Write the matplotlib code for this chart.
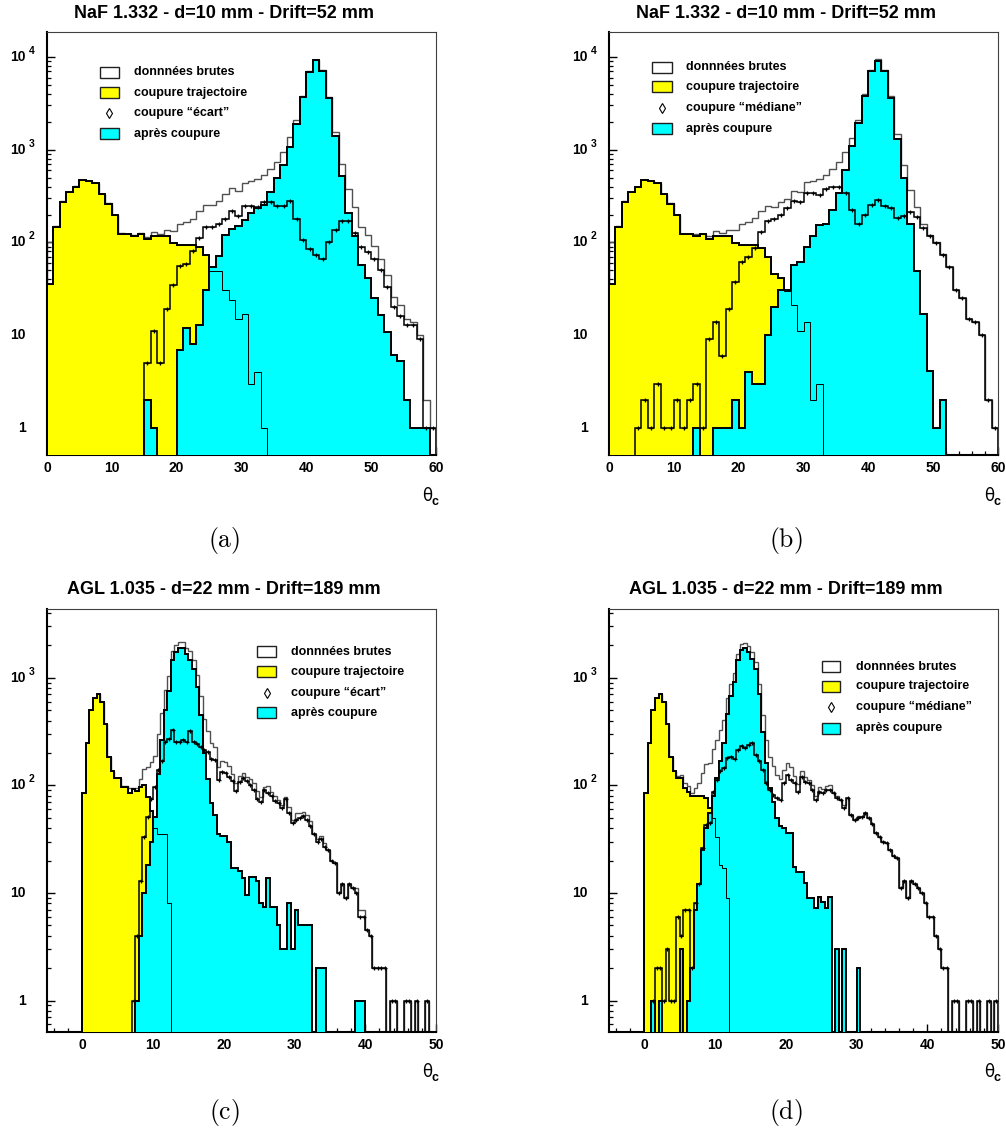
import numpy as np
import matplotlib
matplotlib.use("Agg")
import matplotlib.pyplot as plt
from matplotlib.ticker import FixedLocator, LogLocator, NullFormatter, MultipleLocator
from matplotlib.patches import Rectangle

plt.rcParams['font.family'] = ['Liberation Sans', 'DejaVu Sans']

# ---------------- data ----------------
# NaF panels: 60 bins of 1 unit from 0 to 60
edges_naf = np.arange(0, 61, 1.0)
# AGL panels: 100 bins of 0.5 unit from 0 to 50
edges_agl = np.arange(0, 50.001, 0.5)

raw_a = [100, 150, 278, 350, 402, 475, 464, 442, 332, 264,
         198, 125, 124, 120, 125, 115, 130, 123, 135, 133,
         158, 165, 181, 216, 252, 252, 279, 329, 382, 359,
         443, 463, 485, 530, 622, 740, 940, 1360, 2080, 3806,
         6986, 9273, 7167, 3702, 1537, 698, 377, 241, 147, 119,
         91, 66, 44, 26, 21, 15, 14, 10, 2, 1]
traj_a = [36, 148, 276, 348, 400, 473, 462, 440, 330, 262,
          196, 123, 122, 118, 123, 108, 118, 118, 116, 98,
          95, 94, 93, 90, 73, 49, 49, 31, 24, 15,
          17, 3, 4, 1, 0, 0, 0, 0, 0, 0,
          0, 0, 0, 0, 0, 0, 0, 0, 0, 0,
          0, 0, 0, 0, 0, 0, 0, 0, 0, 0]
ecart_a = [0, 0, 0, 0, 0, 0, 0, 0, 0, 0,
           0, 0, 0, 0, 0, 5, 11, 5, 19, 35,
           56, 59, 80, 113, 148, 148, 158, 178, 218, 194,
           250, 250, 244, 276, 272, 250, 250, 280, 179, 106,
           86, 73, 67, 102, 137, 172, 170, 125, 90, 78,
           66, 50, 33, 20, 16, 13, 13, 9, 1, 1]
after_a = [0, 0, 0, 0, 0, 0, 0, 0, 0, 0,
           0, 0, 0, 0, 0, 2, 1, 0, 0, 0,
           7, 12, 8, 13, 31, 55, 72, 120, 140, 150,
           176, 210, 237, 253, 350, 490, 690, 1080, 1900, 3700,
           6900, 9200, 7100, 3600, 1400, 526, 207, 116, 57, 41,
           25, 16.5, 10.9, 6.1, 5.2, 2, 1, 1, 1, 0]

raw_b = [100, 150, 278, 350, 401, 475, 463, 443, 331, 263,
         198, 124, 124, 122, 124, 117, 133, 125, 136, 137,
         157, 168, 183, 219, 250, 244, 272, 294, 360, 349,
         444, 458, 483, 538, 619, 745, 947, 1335, 2100, 3957,
         7305, 9428, 7297, 3843, 1482, 689, 372, 239, 159, 120,
         100, 75, 55, 31, 25, 15, 14, 10, 2, 1]
traj_b = [36, 148, 276, 348, 400, 473, 462, 440, 330, 262,
          196, 123, 122, 118, 123, 108, 118, 118, 116, 98,
          95, 94, 93, 88, 70, 46, 41, 30, 21, 11,
          14, 2, 3, 0, 0, 0, 0, 0, 0, 0,
          0, 0, 0, 0, 0, 0, 0, 0, 0, 0,
          0, 0, 0, 0, 0, 0, 0, 0, 0, 0]
median_b = [0, 0, 0, 0, 1, 2, 1, 3, 1, 1,
            2, 1, 2, 3, 1, 9, 14, 6, 19, 37,
            61, 70, 87, 128, 170, 178, 200, 233, 282, 276,
            340, 340, 325, 378, 394, 400, 340, 225, 160, 197,
            255, 288, 247, 233, 182, 194, 214, 190, 142, 116,
            99, 73, 55, 31, 25, 15, 14, 10, 2, 1]
after_b = [0, 0, 0, 0, 0, 0, 0, 0, 0, 0,
           0, 0, 0, 1, 0, 0, 1, 1, 1, 2,
           1, 4, 3, 3, 10, 20, 31, 31, 57, 62,
           90, 116, 155, 160, 225, 345, 607, 1110, 1940, 3760,
           7050, 9140, 7050, 3610, 1300, 495, 158, 49, 17, 4.1,
           1, 2, 0, 0, 0, 0, 0, 0, 0, 0]

raw_c = [84, 245, 500, 643, 700, 598, 371, 184, 136, 116,
         118, 98, 98, 95, 95, 94, 114, 143, 147, 163,
         188, 300, 465, 761, 1037, 1780, 2000, 2155, 2162, 1905,
         1770, 1450, 1060, 675, 412, 320, 245, 225, 147, 168,
         163, 150, 127, 105, 123, 131, 120, 114, 104, 88,
         78, 97, 99, 87, 79, 73, 65, 78, 63, 48,
         55, 55, 57, 53, 47, 35, 32, 34, 29, 25,
         20, 19, 10, 12, 9, 12, 11, 11, 7, 7,
         4.5, 4, 2, 2, 2, 2, 0, 1, 1, 0,
         0, 1, 1, 0, 1, 0, 0, 1, 0, 0]
traj_c = [84, 245, 500, 643, 700, 598, 371, 184, 136, 116,
          118, 97, 97, 84, 93, 89, 97, 100, 78, 58,
          40, 35, 35, 35, 8, 0, 0, 0, 0, 0] + [0] * 70
ecart_c = [0, 0, 0, 0, 0, 0, 0, 0, 0, 0,
           0, 0, 0, 0, 1, 4, 13, 33, 51, 75,
           97, 139, 170, 253, 270, 330, 250, 255, 262, 255,
           320, 250, 240, 225, 212, 205, 177, 172, 112, 134,
           129, 120, 110, 88, 107, 117, 110, 100, 90, 75,
           70, 90, 85, 80, 72, 68, 62, 75, 55, 45,
           48, 50, 52, 48, 42, 35, 30, 32, 27, 25,
           20, 19, 10, 12, 9, 12, 11, 10, 6, 6,
           4.5, 4, 2, 2, 2, 2, 0, 1, 1, 0,
           0, 1, 1, 0, 1, 0, 0, 1, 0, 0]
after_c = [0, 0, 0, 0, 0, 0, 0, 0, 0, 0,
           0, 0, 0, 0, 0, 1, 4, 10, 18, 30,
           51, 128, 262, 500, 760, 1450, 1750, 1900, 1900, 1650,
           1450, 1200, 820, 450, 200, 115, 68, 53, 35, 34,
           34, 30, 17, 17, 16, 13.7, 9.6, 14, 14, 13,
           8, 7.4, 13.7, 7.4, 7.4, 5, 3, 3, 8, 3,
           7, 5, 5, 5, 5, 0, 2, 2, 2, 0,
           0, 0, 0, 0, 0, 0, 0, 1, 1, 1,
           0, 0, 0, 0, 0, 0, 0, 0, 0, 0,
           0, 0, 0, 0, 0, 0, 0, 0, 0, 0]

raw_d = [84, 245, 501, 645, 703, 599, 374, 185, 137, 122,
         125, 104, 98, 84, 95, 104, 131, 159, 162, 216,
         262, 325, 407, 649, 865, 1096, 1675, 2050, 2122, 1958,
         1735, 1392, 867, 455, 264, 185, 150, 126, 115, 140,
         161, 148, 122, 103, 136, 120, 113, 100, 80, 96,
         92, 98, 100, 84, 79, 73, 65, 76, 53, 48,
         52, 51, 55, 50, 44, 36, 33, 30, 29, 25,
         22, 21, 11, 13, 9, 13, 12, 11, 10, 8,
         6, 6, 4, 3, 2, 2, 0, 1, 1, 0,
         0, 1, 1, 0, 1, 0, 0, 1, 0, 1]
traj_d = [84, 245, 500, 643, 700, 598, 371, 184, 136, 116,
          118, 94, 87, 80, 80, 80, 80, 76, 62, 50,
          33, 18, 17, 9, 0, 0, 0, 0, 0, 0] + [0] * 70
median_d = [0, 0, 1, 2, 2, 1, 3, 1, 1, 6,
            4, 7, 7, 2, 8, 12, 26, 43, 45, 87,
            112, 137, 144, 178, 185, 175, 215, 230, 222, 238,
            245, 192, 167, 139, 104, 91, 81, 76, 73, 104,
            125, 112, 104, 87, 120, 108, 104, 91, 73, 87,
            84, 91, 91, 84, 76, 73, 62, 76, 53, 48,
            50, 51, 55, 50, 44, 36, 33, 30, 29, 25,
            22, 21, 11, 13, 9, 13, 12, 11, 10, 8,
            6, 6, 4, 3, 2, 2, 0, 1, 1, 0,
            0, 1, 1, 0, 1, 0, 0, 1, 0, 1]
after_d = [0, 0, 1, 0, 1, 0, 0, 0, 0, 0,
           3, 0, 1, 2, 7, 12, 25, 40, 55, 79,
           117, 170, 246, 462, 680, 921, 1460, 1820, 1900, 1720,
           1490, 1200, 700, 316, 160, 94, 70, 50, 42, 40,
           36, 36, 17.6, 15.8, 15.8, 12.3, 9, 9, 7.2, 9.2,
           8.3, 7.2, 9.2, 0, 3, 0, 3, 0, 0, 0,
           2, 0, 0, 0, 0, 0, 0, 0, 0, 0] + [0] * 30

titles = ["NaF 1.332 - d=10 mm - Drift=52 mm", "NaF 1.332 - d=10 mm - Drift=52 mm",
          "AGL 1.035 - d=22 mm - Drift=189 mm", "AGL 1.035 - d=22 mm - Drift=189 mm"]
panel_tags = ["(a)", "(b)", "(c)", "(d)"]
legend_labels_ecart = ["donnnées brutes", "coupure trajectoire", "coupure \u201c\u00e9cart\u201d", "après coupure"]
legend_labels_median = ["donnnées brutes", "coupure trajectoire", "coupure \u201cm\u00e9diane\u201d", "après coupure"]

# ---------------- figure ----------------
W, H = 1006, 1133
fig = plt.figure(figsize=(W / 100, H / 100), dpi=100)


def px_axes(x0, y0, x1, y1):
    return fig.add_axes([x0 / W, 1 - y1 / H, (x1 - x0) / W, (y1 - y0) / H])


FLOOR = 1e-3


def fl(v):
    v = np.asarray(v, dtype=float)
    return np.where(v > 0, v, FLOOR)


def draw(ax, edges, raw, traj, cut, after, xlim, ylim, decades, legend_xy, labels):
    ax.set_yscale('log')
    ax.stairs(fl(raw), edges, baseline=FLOOR, fill=False, color='#505050', lw=1.0, zorder=2)
    ax.stairs(fl(traj), edges, baseline=FLOOR, fill=True, facecolor='#ffff00',
              edgecolor='black', lw=1.4, zorder=3)
    ax.stairs(fl(after), edges, baseline=FLOOR, fill=True, facecolor='#00ffff',
              edgecolor='black', lw=1.4, zorder=4)
    ax.stairs(fl(traj), edges, baseline=FLOOR, fill=False, color='black', lw=0.7, zorder=5)
    ax.stairs(fl(cut), edges, baseline=FLOOR, fill=False, color='black', lw=1.1, zorder=6)
    centers = 0.5 * (edges[:-1] + edges[1:])
    c = np.asarray(cut, dtype=float)
    m = c > 0
    ax.plot(centers[m], c[m], ls='none', marker='+', ms=3.5, mew=0.9, color='black', zorder=7)

    ax.set_xlim(*xlim)
    ax.set_ylim(*ylim)
    ax.xaxis.set_minor_locator(MultipleLocator(2))
    ax.yaxis.set_major_locator(FixedLocator([10.0 ** k for k in decades]))
    ax.yaxis.set_minor_locator(LogLocator(base=10, subs=np.arange(2, 10), numticks=100))
    ax.yaxis.set_major_formatter(NullFormatter())
    ax.yaxis.set_minor_formatter(NullFormatter())
    ax.tick_params(which='both', direction='in', top=False, right=False)
    ax.tick_params(which='major', length=6, width=1.0)
    ax.tick_params(which='minor', length=3, width=0.9)
    ax.tick_params(axis='x', which='major', pad=4)
    xt = list(range(0, int(xlim[1]) + 1, 10))
    ax.set_xticks(xt)
    ax.set_xticklabels([str(t) for t in xt], fontweight='bold', fontsize=10)
    for side in ['left', 'bottom']:
        ax.spines[side].set_linewidth(1.5)
    for side in ['top', 'right']:
        ax.spines[side].set_linewidth(0.8)
        ax.spines[side].set_color('#404040')

    # y tick labels in ROOT style
    for k in decades:
        v = 10.0 ** k
        base = "1" if k == 0 else "10"
        ax.annotate(base, xy=(0, v), xycoords=('axes fraction', 'data'),
                    xytext=(-21 * 0.72, 0), textcoords='offset points',
                    ha='right', va='center', fontsize=10, fontweight='bold')
        if k >= 2:
            ax.annotate(str(k), xy=(0, v), xycoords=('axes fraction', 'data'),
                        xytext=(-18 * 0.72, 6 * 0.72), textcoords='offset points',
                        ha='left', va='center', fontsize=7.5, fontweight='bold')

    # legend
    bx0, bx1, rows, tx = legend_xy
    bw = bx1 - bx0
    bh = 0.026
    faces = ['white', '#ffff00', None, '#00ffff']
    for i, (yy, lab) in enumerate(zip(rows, labels)):
        if faces[i] is not None:
            ax.add_patch(Rectangle((bx0, yy - bh / 2), bw, bh, transform=ax.transAxes,
                                   facecolor=faces[i], edgecolor='#202020', lw=1.0, zorder=8))
        else:
            ax.plot([bx0 + bw / 2], [yy], transform=ax.transAxes, marker='d', ms=5.5,
                    mfc='white', mec='black', mew=0.8, zorder=8)
        ax.text(tx, yy, lab, transform=ax.transAxes, ha='left', va='center',
                fontsize=9, fontweight='bold', zorder=8)


axes_px = [(47, 32, 436, 455), (609, 32, 998, 455), (47, 609, 436, 1032), (609, 609, 998, 1032)]
legend_specs = [
    (0.136, 0.185, [0.905, 0.856, 0.809, 0.759], 0.224),
    (0.111, 0.162, [0.917, 0.870, 0.820, 0.771], 0.198),
    (0.540, 0.589, [0.899, 0.852, 0.802, 0.755], 0.626),
    (0.547, 0.595, [0.864, 0.817, 0.768, 0.718], 0.634),
]
series = [
    (edges_naf, raw_a, traj_a, ecart_a, after_a, (0, 60), (0.51, 18600), [0, 1, 2, 3, 4], legend_labels_ecart),
    (edges_naf, raw_b, traj_b, median_b, after_b, (0, 60), (0.51, 18600), [0, 1, 2, 3, 4], legend_labels_median),
    (edges_agl, raw_c, traj_c, ecart_c, after_c, (-5, 50), (0.51, 4350), [0, 1, 2, 3], legend_labels_ecart),
    (edges_agl, raw_d, traj_d, median_d, after_d, (-5, 50), (0.51, 4350), [0, 1, 2, 3], legend_labels_median),
]
title_pos = [(224, 13), (786, 13), (224, 590), (786, 590)]
tag_pos = [(224, 540), (786, 540), (224, 1113), (786, 1113)]
theta_pos = [(427, 496), (989, 496), (427, 1072), (989, 1072)]

for i in range(4):
    ax = px_axes(*axes_px[i])
    e, r, t, c, a, xl, yl, dec, labs = series[i]
    draw(ax, e, r, t, c, a, xl, yl, dec, legend_specs[i], labs)
    tx, ty = title_pos[i]
    fig.text(tx / W, 1 - ty / H, titles[i], ha='center', va='center', fontsize=13, fontweight='bold')
    gx, gy = tag_pos[i]
    fig.text(gx / W, 1 - gy / H, r'$\mathrm{' + panel_tags[i] + '}$', ha='center', va='center',
             fontsize=18.5, math_fontfamily='cm')
    hx, hy = theta_pos[i]
    fig.text(hx / W, 1 - hy / H, '\u03b8', ha='center', va='center', fontsize=12,
             family=['DejaVu Sans'])
    fig.text((hx + 8) / W, 1 - (hy + 6) / H, 'c', ha='center', va='center', fontsize=9,
             fontweight='bold')

fig.savefig('out.png', dpi=100)
